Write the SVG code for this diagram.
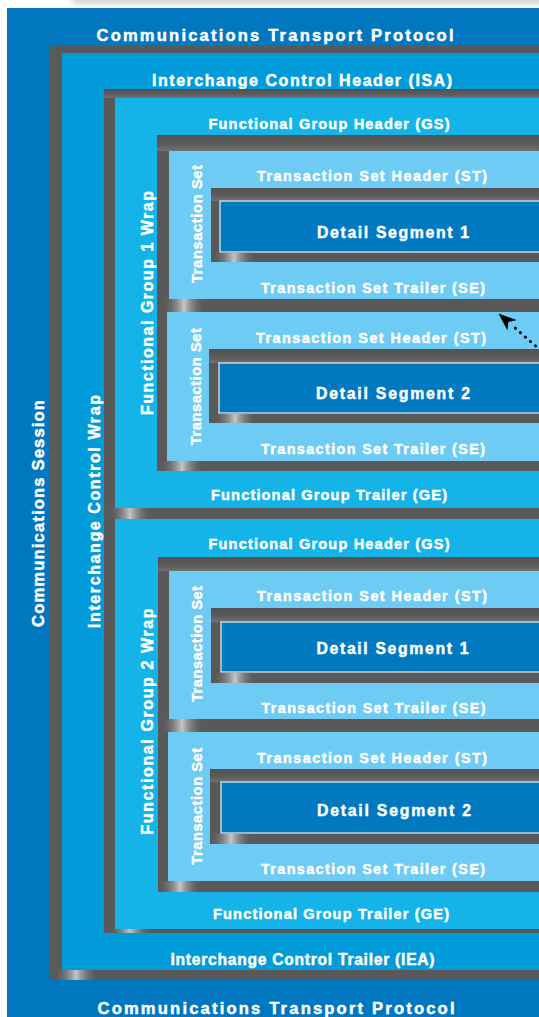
<svg xmlns="http://www.w3.org/2000/svg" width="539" height="1017" viewBox="0 0 539 1017">
<defs>
<style>
.t{font-family:"Liberation Sans",Arial,sans-serif;font-weight:bold;fill:#fff;stroke:#fff;stroke-width:0.45;text-anchor:middle}
.gray{fill:#595959}
.cs{fill:#0077be}
.icw{fill:#019bda}
.fg{fill:#14b4e9}
.ts{fill:#6ecbf3}
.ds{fill:#0079c1;stroke:#e8eef2;stroke-width:1.2}
.shine{fill:url(#shine)}
.tb{fill:url(#topband)}
.dots{fill:none;stroke:#000;stroke-width:3;stroke-linecap:round;stroke-dasharray:0.1 6.6}
</style>
<linearGradient id="shine" x1="0" y1="0" x2="1" y2="0">
<stop offset="0" stop-color="#595959" stop-opacity="0"/>
<stop offset="0.5" stop-color="#c6c6c6"/>
<stop offset="1" stop-color="#595959" stop-opacity="0"/>
</linearGradient>
<linearGradient id="topband" x1="0" y1="0" x2="0" y2="1">
<stop offset="0" stop-color="#525252"/>
<stop offset="0.6" stop-color="#5c5c5c"/>
<stop offset="1" stop-color="#727272"/>
</linearGradient>
<filter id="blur" x="-10%" y="-100%" width="120%" height="300%"><feGaussianBlur stdDeviation="3"/></filter>
<marker id="arrow" markerUnits="userSpaceOnUse" markerWidth="18" markerHeight="14" viewBox="0 0 18 14" refX="18" refY="7" orient="auto"><path d="M0,0 L18,7 L0,14 L5,7 Z" fill="#000"/></marker>
</defs>
<rect width="539" height="1017" fill="#fff"/>
<rect x="72" y="-8" width="480" height="12" fill="#d4d4d4" filter="url(#blur)"/>

<g id="communications-session">
<rect class="cs" x="7" y="8" width="540" height="1015"/>
<text class="t" x="275" y="40.8" font-size="16.6" textLength="357">Communications Transport Protocol</text>
<text class="t" x="276" y="1014.3" font-size="16.6" textLength="357">Communications Transport Protocol</text>
<text class="t" font-size="16.6" textLength="227" transform="translate(43.5,513.5) rotate(-90)">Communications Session</text>
</g>

<g id="interchange-control-wrap">
<rect class="gray" x="49" y="46" width="500" height="934"/>
<rect class="icw" x="62" y="53" width="490" height="917"/>
<rect class="shine" x="54" y="970" width="44" height="10"/>
<text class="t" x="302" y="85.5" font-size="16" textLength="300">Interchange Control Header (ISA)</text>
<text class="t" x="302.5" y="965.2" font-size="15.6" textLength="264">Interchange Control Trailer (IEA)</text>
<text class="t" font-size="16" textLength="233" transform="translate(99.5,511.5) rotate(-90)">Interchange Control Wrap</text>
</g>

<g id="functional-group-1">
<rect class="gray" x="104" y="89" width="445" height="430"/>
<rect class="tb" x="104" y="89" width="445" height="9"/>
<rect class="fg" x="115" y="98" width="430" height="410"/>
<rect class="shine" x="108" y="508" width="44" height="11"/>
<text class="t" x="329" y="128.5" font-size="14.6" textLength="241">Functional Group Header (GS)</text>
<text class="t" x="329" y="500.2" font-size="14.6" textLength="236">Functional Group Trailer (GE)</text>
<text class="t" font-size="16" textLength="224" transform="translate(152.5,303) rotate(-90)">Functional Group 1 Wrap</text>
</g>

<g id="fg1-transaction-set-1">
<rect class="gray" x="157" y="135" width="390" height="177"/>
<rect class="tb" x="157" y="135" width="390" height="16"/>
<rect class="ts" x="169" y="151" width="380" height="148"/>
<rect class="shine" x="162" y="299" width="44" height="13"/>
<text class="t" x="372" y="180.9" font-size="14.4" textLength="230">Transaction Set Header (ST)</text>
<text class="t" x="373" y="292.5" font-size="14.4" textLength="224">Transaction Set Trailer (SE)</text>
<text class="t" font-size="14.6" textLength="118" transform="translate(201.5,224) rotate(-90)">Transaction Set</text>
</g>
<g id="fg1-detail-segment-1">
<rect class="gray" x="211" y="188" width="340" height="74"/>
<rect class="tb" x="211" y="188" width="340" height="13"/>
<rect class="ds" x="220" y="201" width="340" height="51"/>
<rect class="shine" x="212" y="252.6" width="44" height="9.4"/>
<text class="t" x="393" y="237.8" font-size="15.8" textLength="152">Detail Segment 1</text>
</g>

<g id="fg1-transaction-set-2">
<rect class="gray" x="157" y="312" width="390" height="159"/>
<rect class="ts" x="167" y="312" width="380" height="149"/>
<rect class="shine" x="160" y="461" width="44" height="10"/>
<text class="t" x="371" y="342.5" font-size="14.4" textLength="230">Transaction Set Header (ST)</text>
<text class="t" x="373" y="454.2" font-size="14.4" textLength="224">Transaction Set Trailer (SE)</text>
<text class="t" font-size="14.6" textLength="117" transform="translate(200.5,386.7) rotate(-90)">Transaction Set</text>
</g>
<g id="fg1-detail-segment-2">
<rect class="gray" x="209" y="349" width="340" height="74"/>
<rect class="tb" x="209" y="349" width="340" height="14"/>
<rect class="ds" x="219" y="363" width="340" height="50"/>
<rect class="shine" x="213" y="413.6" width="44" height="9.4"/>
<text class="t" x="393" y="398.8" font-size="15.8" textLength="154">Detail Segment 2</text>
</g>

<g id="functional-group-2">
<rect class="gray" x="104" y="519" width="445" height="414"/>
<rect class="fg" x="115" y="519" width="430" height="410"/>
<rect class="shine" x="108" y="929" width="44" height="4"/>
<text class="t" x="329" y="549.2" font-size="14.6" textLength="241">Functional Group Header (GS)</text>
<text class="t" x="331" y="918.5" font-size="14.6" textLength="236">Functional Group Trailer (GE)</text>
<text class="t" font-size="16" textLength="226" transform="translate(152.5,721.5) rotate(-90)">Functional Group 2 Wrap</text>
</g>

<g id="fg2-transaction-set-1">
<rect class="gray" x="158" y="557" width="390" height="175"/>
<rect class="tb" x="158" y="557" width="390" height="14"/>
<rect class="ts" x="169" y="571" width="380" height="148"/>
<rect class="shine" x="160" y="719" width="44" height="13"/>
<text class="t" x="372" y="600.9" font-size="14.4" textLength="230">Transaction Set Header (ST)</text>
<text class="t" x="373.5" y="712.5" font-size="14.4" textLength="224">Transaction Set Trailer (SE)</text>
<text class="t" font-size="14.6" textLength="116" transform="translate(201.5,644) rotate(-90)">Transaction Set</text>
</g>
<g id="fg2-detail-segment-1">
<rect class="gray" x="211" y="608" width="340" height="75"/>
<rect class="tb" x="211" y="608" width="340" height="14"/>
<rect class="ds" x="221" y="622" width="340" height="50"/>
<rect class="shine" x="213" y="672.6" width="44" height="10.4"/>
<text class="t" x="392.5" y="653.8" font-size="15.8" textLength="152">Detail Segment 1</text>
</g>

<g id="fg2-transaction-set-2">
<rect class="gray" x="158" y="732" width="390" height="160"/>
<rect class="ts" x="168" y="732" width="380" height="149"/>
<rect class="shine" x="158" y="881" width="44" height="11"/>
<text class="t" x="372" y="762.9" font-size="14.4" textLength="230">Transaction Set Header (ST)</text>
<text class="t" x="373" y="874.2" font-size="14.4" textLength="224">Transaction Set Trailer (SE)</text>
<text class="t" font-size="14.6" textLength="117" transform="translate(201.5,806.3) rotate(-90)">Transaction Set</text>
</g>
<g id="fg2-detail-segment-2">
<rect class="gray" x="210" y="769" width="340" height="75"/>
<rect class="tb" x="210" y="769" width="340" height="13"/>
<rect class="ds" x="221" y="782" width="340" height="51"/>
<rect class="shine" x="209" y="833.6" width="44" height="10.4"/>
<text class="t" x="394" y="815.8" font-size="15.8" textLength="154">Detail Segment 2</text>
</g>

<g id="connectors">
<line class="dots" x1="535.5" y1="346" x2="514" y2="327"/>
<path d="M514 327 L498.5 313.5" fill="none" stroke="none" marker-end="url(#arrow)"/>
</g>
</svg>
